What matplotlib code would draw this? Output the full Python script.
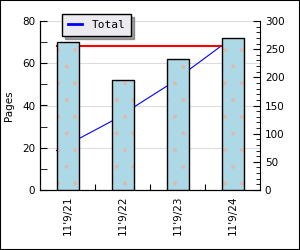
import matplotlib
matplotlib.use("Agg")
from matplotlib import pyplot as plt
from matplotlib.patches import Rectangle
from matplotlib.ticker import MultipleLocator

dates = ["11'9/21", "11'9/22", "11'9/23", "11'9/24"]
pages = [70, 52, 62, 72]
total = [70, 122, 184, 256]
total_max = 256

plt.rcParams['font.family'] = ['DejaVu Sans']
plt.rcParams['hatch.linewidth'] = 0.4

fig = plt.figure(figsize=(3, 2.5), dpi=100)
fig.patch.set_facecolor('white')
fig.patches.append(Rectangle((0, 0), 1, 1, transform=fig.transFigure,
                             fill=False, edgecolor='black', linewidth=1.5))

ax = fig.add_axes([40/300, 60/250, 220/300, 169/250])
ax2 = ax.twinx()
ax.set_zorder(ax2.get_zorder() + 1)
ax.patch.set_visible(False)
ax2.set_facecolor('white')

xs = list(range(len(dates)))
# fill with dotted pattern, then black outline on top
ax.bar(xs, pages, width=0.4, color='#add8e6', edgecolor='#e0b8ac',
       linewidth=0, hatch='.', zorder=3)
ax.bar(xs, pages, width=0.4, fill=False, edgecolor='black',
       linewidth=1, zorder=4)

line_x = [x - 0.2 for x in xs]
ax2.plot(line_x, total, color='blue', linewidth=0.8, label='Total')
ax2.plot([line_x[0], line_x[-1]], [total_max, total_max], color='red', linewidth=1.5)

ax.set_xlim(-0.5, 3.5)
ax.set_ylim(0, 80)
ax2.set_ylim(0, 300)
ax.set_xticks([x + 0.5 for x in xs[:-1]])
ax.set_xticklabels([])
ax.set_xticks(xs, minor=True)
ax.set_xticklabels(dates, minor=True, rotation=90, fontsize=7.5)
ax.tick_params(axis='x', which='minor', length=0, pad=4)
ax.tick_params(axis='x', which='major', direction='in', length=4)

ax.yaxis.set_major_locator(MultipleLocator(20))
ax.yaxis.set_minor_locator(MultipleLocator(10))
ax.tick_params(axis='y', which='both', direction='in', labelsize=7.5)
ax.tick_params(axis='y', which='major', length=5)
ax.tick_params(axis='y', which='minor', length=5)
ax2.yaxis.set_major_locator(MultipleLocator(50))
ax2.yaxis.set_minor_locator(MultipleLocator(10))
ax2.tick_params(axis='y', which='both', direction='in', labelsize=7.5)
ax2.tick_params(axis='y', which='major', length=5)
ax2.tick_params(axis='y', which='minor', length=3)

for v in [20, 40, 60, 80]:
    ax2.axhline(v * 300 / 80, color='#dddddd', linewidth=0.8, zorder=0)

for a in (ax, ax2):
    a.spines['top'].set_visible(False)
ax.spines['right'].set_visible(False)

ax.set_ylabel('Pages', fontsize=7.5, labelpad=6)

leg = ax2.legend(loc='upper left', bbox_to_anchor=(0.075, 1.075),
                 fancybox=False, shadow=True, framealpha=1, handlelength=1.2,
                 borderpad=0.55, handletextpad=0.9,
                 prop={'family': 'DejaVu Sans Mono', 'size': 8})
leg.get_frame().set_facecolor('#ecebf2')
leg.get_frame().set_edgecolor('black')
leg.get_lines()[0].set_linewidth(2)
leg.set_zorder(10)

fig.savefig('out.png', dpi=100)
